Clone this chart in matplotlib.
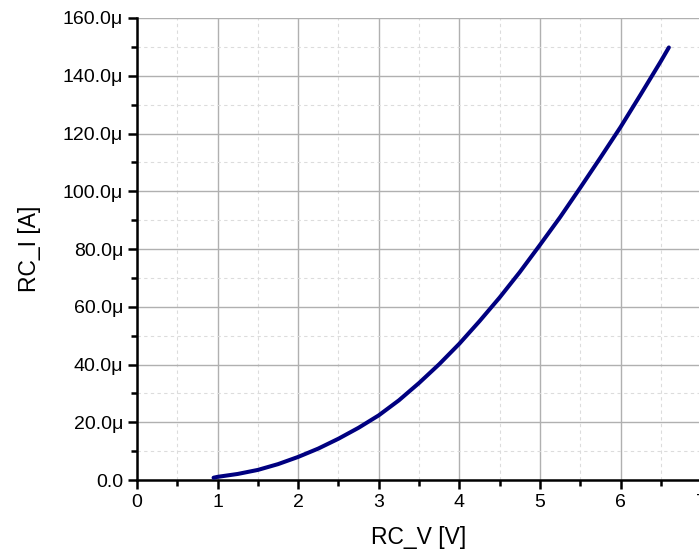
import matplotlib
matplotlib.use('Agg')
import matplotlib.pyplot as plt
from matplotlib.ticker import MultipleLocator, FuncFormatter

# (V, A)
rc_v = [0.95, 1.0, 1.25, 1.5, 1.75, 2.0, 2.25, 2.5, 2.75, 3.0, 3.25, 3.5, 3.75, 4.0,
        4.25, 4.5, 4.75, 5.0, 5.25, 5.5, 5.75, 6.0, 6.25, 6.5, 6.6]
rc_i = [0.8e-6, 1.1e-6, 2.1e-6, 3.5e-6, 5.5e-6, 8.0e-6, 10.9e-6, 14.3e-6, 18.1e-6, 22.4e-6,
        27.6e-6, 33.6e-6, 40.1e-6, 47.2e-6, 55.0e-6, 63.2e-6, 72.0e-6, 81.4e-6, 91.0e-6,
        101.2e-6, 111.6e-6, 122.2e-6, 133.5e-6, 145.0e-6, 149.8e-6]

plt.rcParams['font.family'] = ['Liberation Sans', 'DejaVu Sans']

fig = plt.figure(figsize=(6.99, 5.52), dpi=100)
ax = fig.add_axes([0.196, 0.1304, 0.807, 0.837])
ax.plot(rc_v, rc_i, color='#000080', linewidth=2.9, solid_capstyle='round',
	solid_joinstyle='round', zorder=3)

ax.set_xlim(0, 7)
ax.set_ylim(0, 160e-6)
ax.xaxis.set_major_locator(MultipleLocator(1))
ax.xaxis.set_minor_locator(MultipleLocator(0.5))
ax.yaxis.set_major_locator(MultipleLocator(20e-6))
ax.yaxis.set_minor_locator(MultipleLocator(10e-6))

def fmt(v, pos):
	if abs(v) < 1e-12:
		return '0.0'
	return '%.1f\u03bc' % (v * 1e6)
ax.yaxis.set_major_formatter(FuncFormatter(fmt))

ax.grid(which='major', color='#b0b0b0', linewidth=1.0, linestyle='-')
ax.grid(which='minor', color='#dcdcdc', linewidth=0.8, linestyle=(0, (3, 3)))
ax.set_axisbelow(True)

for s in ['top', 'right']:
	ax.spines[s].set_visible(False)
for s in ['left', 'bottom']:
	ax.spines[s].set_linewidth(1.8)

ax.tick_params(which='major', direction='out', length=6.5, width=1.8, labelsize=14, pad=3.5)
ax.tick_params(which='minor', direction='out', length=4, width=1.8)

ax.set_xlabel('RC_V [V]', fontsize=16.5, labelpad=11)
ax.set_ylabel('RC_I [A]', fontsize=16.5, labelpad=16)

fig.savefig('out.png', dpi=100)
